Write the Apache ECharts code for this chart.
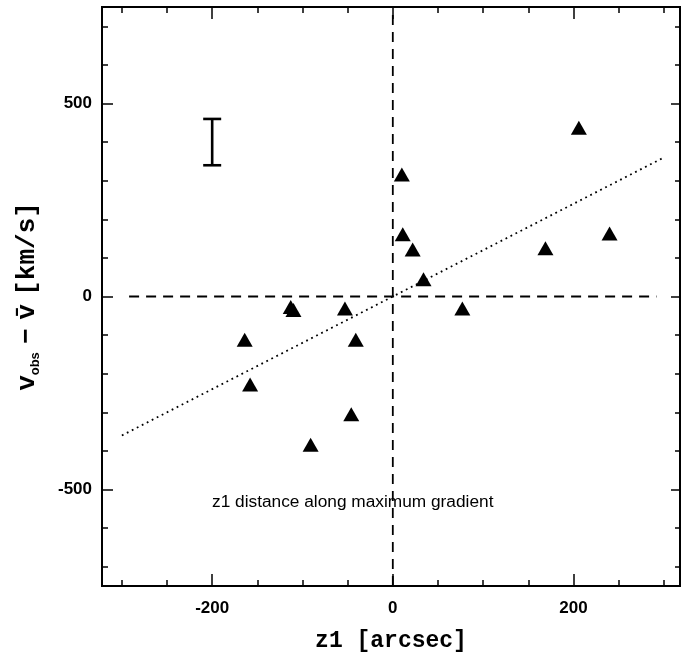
<!DOCTYPE html>
<html>
<head>
<meta charset="utf-8">
<script src="https://cdn.jsdelivr.net/npm/echarts@6/dist/echarts.min.js"></script>
<style>html,body{margin:0;padding:0;background:#fff;}#c{width:686px;height:658px;}</style>
</head>
<body>
<div id="c"></div>
<script>
// Data
const pointsX = [206, 10, 11, 22, 34, 77, 169, 240, -113, -110, -53, -164, -41, -158, -46, -91];
const pointsY = [437, 316, 161, 122, 45, -31, 125, 163, -27, -35, -31, -112, -112, -228, -305, -384];
const fitX = [-300, 300];
const fitY = [-360, 360];
const errX = [-200];
const errLow = [340];
const errHigh = [460];
const xMajorTicks = [-200, 0, 200];
const xMinorTicks = [-300, -250, -150, -100, -50, 50, 100, 150, 250, 300];
const yMajorTicks = [-500, 0, 500];
const yMinorTicks = [-700, -600, -400, -300, -200, -100, 100, 200, 300, 400, 600, 700];
const xLabels = [-200, 0, 200];
const yLabels = [-500, 0, 500];

const XMIN = -322, XMAX = 318, YMIN = -750, YMAX = 750;
const labelFont = {color: '#000', fontFamily: 'Liberation Sans', fontWeight: 'bold', fontSize: 17};

function xAx(pos, ticks, len, labels) {
  return {
    type: 'value', position: pos, min: XMIN, max: XMAX,
    axisLine: {show: false, onZero: false}, splitLine: {show: false},
    axisTick: {show: true, inside: true, length: len, customValues: ticks, lineStyle: {color: '#000', width: 1.5}},
    axisLabel: labels ? Object.assign({show: true, customValues: labels, margin: 14}, labelFont) : {show: false}
  };
}
function yAx(pos, ticks, len, labels) {
  return {
    type: 'value', position: pos, min: YMIN, max: YMAX,
    axisLine: {show: false, onZero: false}, splitLine: {show: false},
    axisTick: {show: true, inside: true, length: len, customValues: ticks, lineStyle: {color: '#000', width: 1.5}},
    axisLabel: labels ? Object.assign({show: true, customValues: labels, margin: 10}, labelFont) : {show: false}
  };
}

const xAxes = [
  xAx('bottom', xMajorTicks, 12, xLabels),
  xAx('bottom', xMinorTicks, 6, null),
  xAx('top', xMajorTicks, 12, null),
  xAx('top', xMinorTicks, 6, null)
];
Object.assign(xAxes[0], {
  name: 'z1 [arcsec]', nameLocation: 'middle', nameGap: 44,
  nameTextStyle: {color: '#000', fontFamily: 'Liberation Mono', fontWeight: 'bold', fontSize: 23}
});
const yAxes = [
  yAx('left', yMajorTicks, 11, yLabels),
  yAx('left', yMinorTicks, 6, null),
  yAx('right', yMajorTicks, 9, null),
  yAx('right', yMinorTicks, 5, null)
];
Object.assign(yAxes[0], {
  name: '{m|v}{s|obs}{sp| }{m|\u2212}{sp| }{m|v\u0304}{sp| }{m|[km/s]}', nameLocation: 'middle', nameGap: 60, nameRotate: 90,
  nameTextStyle: {
    rich: {
      m: {color: '#000', fontFamily: 'Liberation Mono', fontWeight: 'bold', fontSize: 26, lineHeight: 30},
      sp: {color: '#000', fontFamily: 'Liberation Mono', fontWeight: 'bold', fontSize: 14, lineHeight: 30},
      s: {color: '#000', fontFamily: 'Liberation Sans', fontWeight: 'bold', fontSize: 13, lineHeight: 30, verticalAlign: 'bottom', padding: [8, 0, 0, 0]}
    }
  }
});

const chart = echarts.init(document.getElementById('c'), null, {renderer: 'canvas'});
chart.setOption({
  animation: false,
  backgroundColor: '#fff',
  grid: {left: 102, right: 6, top: 7, bottom: 69, show: true, borderColor: '#000', borderWidth: 2, backgroundColor: 'transparent'},
  xAxis: xAxes,
  yAxis: yAxes,
  graphic: [{
    type: 'text', left: 212, top: 494,
    style: {text: 'z1 distance along maximum gradient', fill: '#000', font: '17.3px "Liberation Sans"'}
  }],
  series: [
    {
      type: 'line', data: [[XMIN + 30, 0], [XMAX - 26, 0]], symbol: 'none', silent: true,
      lineStyle: {color: '#000', width: 1.8, type: [10, 7]}
    },
    {
      type: 'line', data: [[0, YMIN], [0, YMAX]], symbol: 'none', silent: true,
      lineStyle: {color: '#000', width: 1.8, type: [10, 7]}
    },
    {
      type: 'line', data: fitX.map((x, i) => [x, fitY[i]]), symbol: 'none', silent: true,
      lineStyle: {color: '#000', width: 1.8, type: [1.8, 3.8]}
    },
    {
      type: 'custom', data: errX.map((x, i) => [x, errLow[i], errHigh[i]]), silent: true,
      renderItem: function (params, api) {
        const lo = api.coord([api.value(0), api.value(1)]);
        const hi = api.coord([api.value(0), api.value(2)]);
        const hw = 9;
        const st = {stroke: '#000', lineWidth: 2.6};
        return {type: 'group', children: [
          {type: 'line', shape: {x1: lo[0], y1: lo[1], x2: hi[0], y2: hi[1]}, style: st},
          {type: 'line', shape: {x1: lo[0] - hw, y1: lo[1], x2: lo[0] + hw, y2: lo[1]}, style: st},
          {type: 'line', shape: {x1: hi[0] - hw, y1: hi[1], x2: hi[0] + hw, y2: hi[1]}, style: st}
        ]};
      }
    },
    {
      type: 'scatter', data: pointsX.map((x, i) => [x, pointsY[i]]),
      symbol: 'triangle', symbolSize: [16, 14],
      itemStyle: {color: '#000', opacity: 1}
    }
  ]
});
</script>
</body>
</html>
